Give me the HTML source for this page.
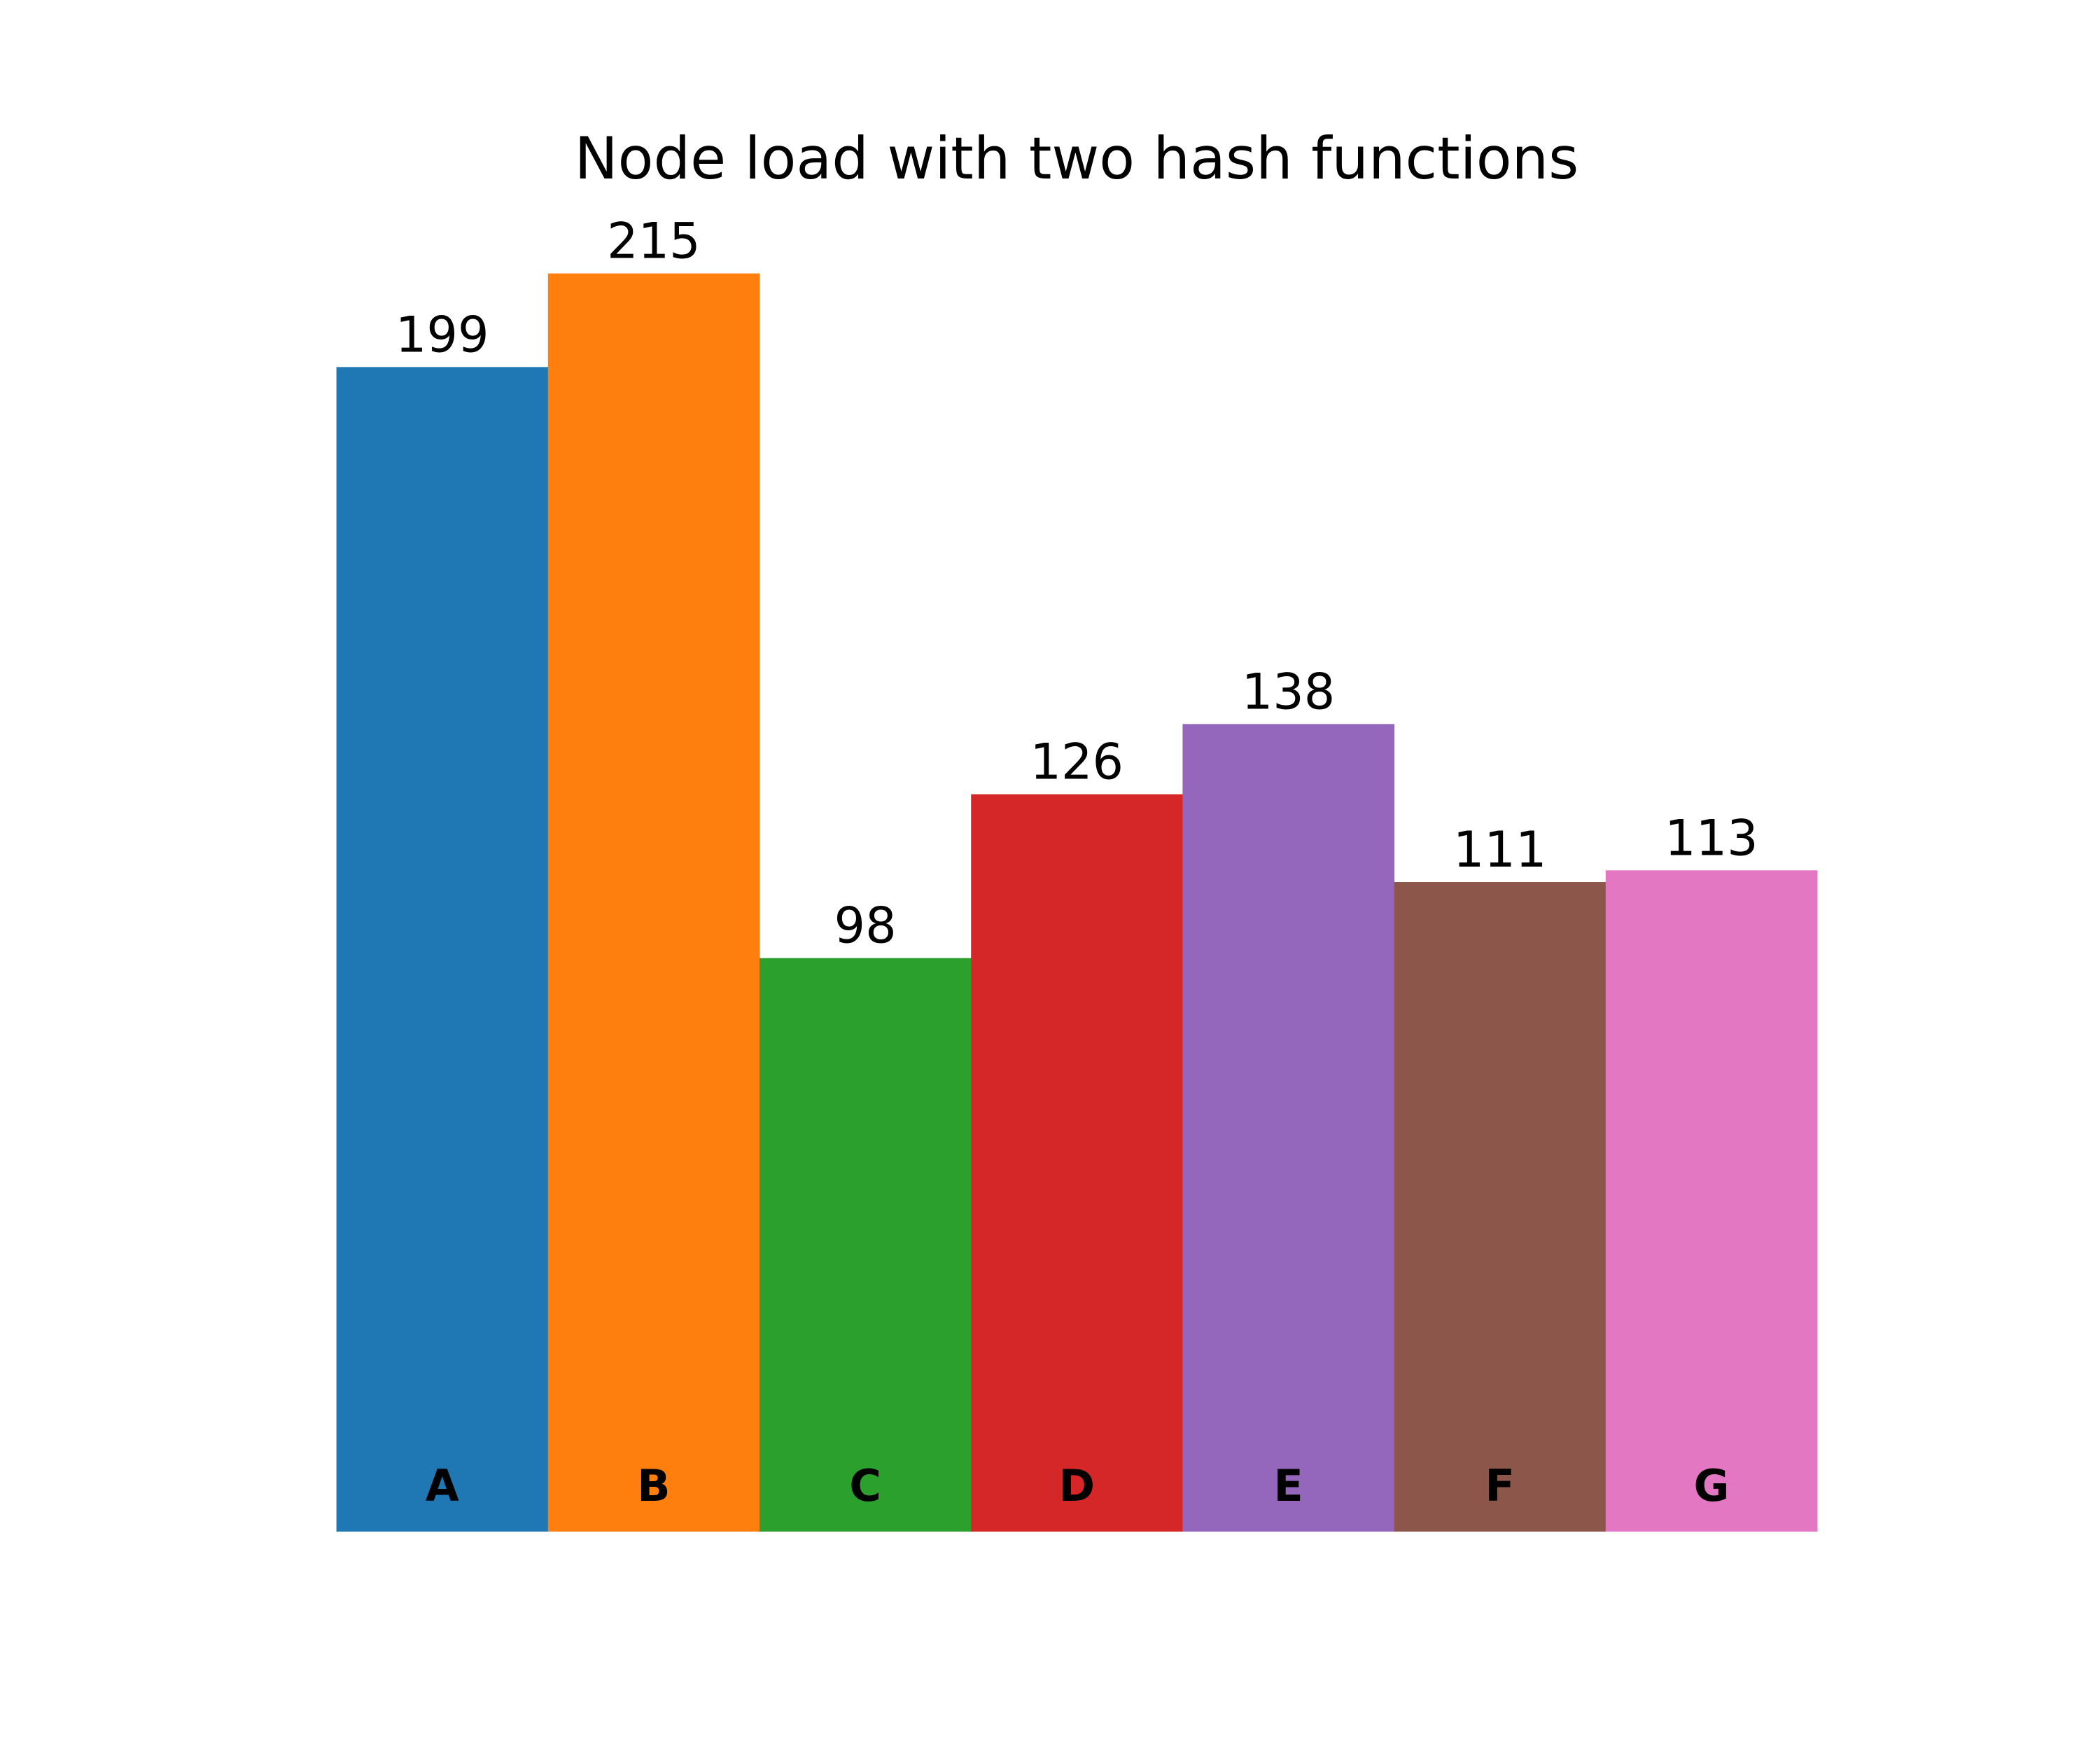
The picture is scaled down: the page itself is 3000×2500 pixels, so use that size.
<!DOCTYPE html>
<html><head><meta charset="utf-8"><style>
html,body{margin:0;padding:0;background:#fff;}
svg{display:block;}
text{font-family:"DejaVu Sans","Liberation Sans",sans-serif;}
</style></head><body>
<svg id="chart" width="3000" height="2500" viewBox="0 0 3000 2500">
<rect width="3000" height="2500" fill="#fff"/>
<text x="1538" y="255" font-size="83" text-anchor="middle" fill="#000">Node load with two hash functions</text>
<g id="bars"></g>
</svg>
<script>
const categories = ["A","B","C","D","E","F","G"];
const values = [199,215,98,126,138,111,113];
const colors = ["#1f77b4","#ff7f0e","#2ca02c","#d62728","#9467bd","#8c564b","#e377c2"];
const x0 = 480.6, barW = 302.2, baseline = 2188, pxPerUnit = (2188-390.6)/215;
function xScale(i){return x0 + i*barW;}
function yScale(v){return baseline - v*pxPerUnit;}
const g = document.getElementById('bars');
const NS = "http://www.w3.org/2000/svg";
categories.forEach((c,i)=>{
  const r = document.createElementNS(NS,'rect');
  r.setAttribute('x', xScale(i));
  r.setAttribute('y', yScale(values[i]));
  r.setAttribute('width', barW+0.5);
  r.setAttribute('height', baseline - yScale(values[i]));
  r.setAttribute('fill', colors[i]);
  
  
  g.appendChild(r);
  const t = document.createElementNS(NS,'text');
  t.setAttribute('x', xScale(i)+barW/2);
  t.setAttribute('y', yScale(values[i])-22);
  t.setAttribute('font-size','70');
  t.setAttribute('text-anchor','middle');
  t.textContent = values[i];
  
  
  g.appendChild(t);
  const l = document.createElementNS(NS,'text');
  l.setAttribute('x', xScale(i)+barW/2);
  l.setAttribute('y', 2144);
  l.setAttribute('font-size','62');
  l.setAttribute('font-weight','bold');
  l.setAttribute('text-anchor','middle');
  l.textContent = c;
  
  
  g.appendChild(l);
});
</script>
</body></html>
